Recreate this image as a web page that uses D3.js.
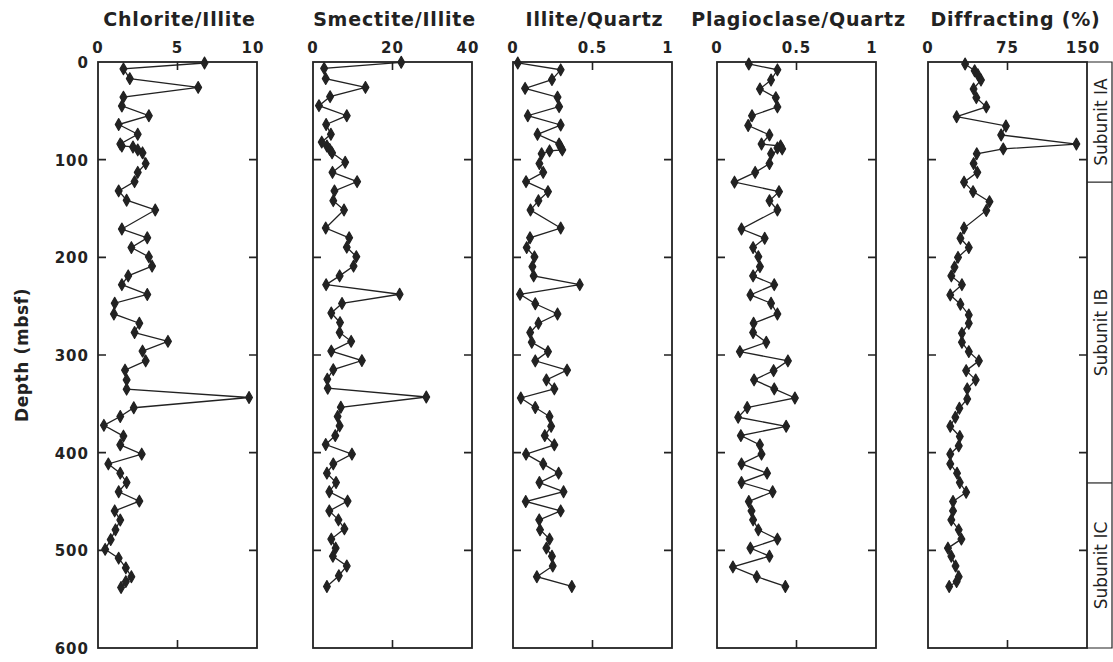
<!DOCTYPE html>
<html>
<head>
<meta charset="utf-8">
<script src="https://cdn.jsdelivr.net/npm/d3@7"></script>
<style>
  body { margin: 0; background: #fff; }
  svg { display: block; }
</style>
</head>
<body>
<script>
// depth (mbsf) and value for each panel
var chloriteDepth = [1, 7, 17, 26, 36, 45, 55, 64, 74, 84, 86, 87, 90, 93, 104, 113, 122.5, 132, 141.5, 151.5, 171, 180, 190, 199.5, 209, 219, 228, 238, 247, 258, 267.5, 277, 286, 296, 306, 315.5, 325.5, 335, 343.5, 354, 363, 372, 383, 392, 401.5, 411.5, 421, 430.5, 440, 449.6, 459.6, 469, 479, 489, 499, 508, 518, 527, 532, 538];
var chloriteValue = [6.7, 1.6, 2.0, 6.3, 1.6, 1.5, 3.2, 1.3, 2.5, 1.4, 1.5, 2.2, 2.5, 2.8, 3.0, 2.5, 2.3, 1.3, 1.8, 3.6, 1.5, 3.1, 2.1, 3.2, 3.4, 1.9, 1.5, 3.1, 1.05, 1.0, 2.6, 2.3, 4.4, 2.8, 3.0, 1.7, 1.8, 1.8, 9.5, 2.25, 1.4, 0.37, 1.6, 1.4, 2.75, 0.65, 1.4, 1.8, 1.3, 2.6, 1.05, 1.4, 1.1, 0.8, 0.45, 1.3, 1.75, 2.1, 1.75, 1.45];

var smectiteDepth = [0.3, 6.5, 17, 26, 35.5, 44.7, 55, 64, 74, 82, 86, 89.5, 93, 102.7, 113, 122.5, 132, 142, 151.5, 170, 180, 189.6, 199.3, 209, 219, 228, 237.8, 247.2, 257, 266.8, 277, 286, 296, 305.7, 315, 324.8, 334, 343, 353.5, 363, 372.6, 382.5, 391.7, 401.5, 411.5, 421, 430.6, 440, 449.6, 459.6, 468.8, 478, 488.5, 497.7, 506, 516, 526, 537];
var smectiteValue = [22.2, 2.8, 3.2, 13.2, 4.3, 1.5, 8.5, 3.3, 4.5, 2.2, 3.5, 4.2, 4.8, 8.1, 4.9, 11.1, 5.4, 5.1, 7.8, 3.2, 9.1, 8.5, 10.9, 10.2, 6.7, 3.3, 21.8, 7.3, 4.6, 6.8, 6.7, 9.6, 4.6, 12.3, 5.1, 3.6, 3.7, 28.5, 7.0, 6.2, 6.7, 5.6, 3.2, 9.8, 5.1, 3.5, 5.8, 4.1, 8.7, 4.1, 6.4, 7.9, 4.6, 5.7, 5.0, 8.5, 6.5, 3.5];

var illiteDepth = [1, 8, 18, 27, 36, 45.7, 55, 64.5, 74, 84, 87, 90, 91, 94, 104, 113, 122.5, 132.7, 142, 151.5, 170, 180, 190, 199.5, 209.5, 219, 228, 237.8, 247.5, 258, 267.5, 277, 287, 296.5, 306, 315.5, 325.5, 334.7, 344, 353.8, 363, 373, 382.5, 392, 401.5, 411.5, 421, 430.6, 440, 450, 459.6, 468.8, 479, 488.5, 497.7, 506, 516, 527, 537];
var illiteValue = [0.03, 0.30, 0.245, 0.076, 0.28, 0.29, 0.093, 0.30, 0.154, 0.29, 0.30, 0.31, 0.23, 0.18, 0.166, 0.19, 0.082, 0.22, 0.16, 0.11, 0.30, 0.107, 0.086, 0.135, 0.122, 0.13, 0.42, 0.044, 0.14, 0.28, 0.16, 0.108, 0.118, 0.22, 0.14, 0.34, 0.21, 0.26, 0.049, 0.14, 0.23, 0.24, 0.20, 0.26, 0.082, 0.19, 0.287, 0.166, 0.318, 0.08, 0.30, 0.165, 0.17, 0.23, 0.21, 0.245, 0.25, 0.15, 0.37];

var plagDepth = [2, 8, 18.4, 27.6, 36.5, 46, 55, 65, 74.7, 84, 86, 88, 89, 94, 104, 113, 123, 132.7, 142, 151.5, 171, 180.5, 190, 199.3, 209.5, 219, 228, 238.5, 247, 258, 267.5, 277, 287, 296.5, 306, 316, 325.5, 334.7, 344, 353.8, 363.7, 373, 382.5, 392, 401.5, 411.5, 421, 430.6, 440, 450, 459.6, 468.8, 479, 488.5, 497.7, 506, 517, 527, 537];
var plagValue = [0.20, 0.38, 0.34, 0.27, 0.37, 0.38, 0.22, 0.196, 0.33, 0.28, 0.40, 0.38, 0.41, 0.34, 0.33, 0.24, 0.11, 0.39, 0.33, 0.38, 0.154, 0.30, 0.227, 0.26, 0.27, 0.227, 0.36, 0.21, 0.34, 0.38, 0.23, 0.227, 0.31, 0.144, 0.446, 0.356, 0.233, 0.36, 0.49, 0.19, 0.133, 0.435, 0.15, 0.27, 0.28, 0.154, 0.315, 0.154, 0.35, 0.20, 0.217, 0.227, 0.26, 0.38, 0.21, 0.33, 0.10, 0.25, 0.43];

var diffDepth = [2, 9, 13, 18.4, 27.6, 36.5, 46, 56, 65.5, 74.7, 84, 89, 94, 104, 113, 123, 132.7, 143, 152, 170, 180.5, 190, 200, 210, 219, 228, 238.5, 248, 259, 267.5, 277.8, 287, 296.5, 306, 316, 325.5, 334.7, 345, 354.5, 363.7, 373, 383.5, 393, 401.5, 411.5, 421, 430.6, 440.5, 450, 459.6, 468.8, 479, 488.5, 497.7, 506, 516, 527, 532, 537];
var diffValue = [35, 44, 47, 50, 43, 45.6, 55, 27, 73.5, 69, 140, 71, 46, 43, 46.5, 34, 42.5, 58, 55, 34, 30.6, 38.5, 28.3, 25, 22, 32, 21, 30.6, 38.5, 38.5, 32, 32, 38.5, 48, 36, 45, 37, 37, 29.6, 25.8, 21, 30, 29, 21, 21, 27.4, 30, 36, 23.6, 23.6, 22, 29, 31.5, 18.8, 22, 26, 29, 27, 20];

var titles = ["Chlorite/Illite", "Smectite/Illite", "Illite/Quartz", "Plagioclase/Quartz", "Diffracting  (%)"];
var xMax = [10, 40, 1, 1, 150];
var xTickLabels = [["0", "5", "10"], ["0", "20", "40"], ["0", "0.5", "1"], ["0", "0.5", "1"], ["0", "75", "150"]];
var depthTicks = [0, 100, 200, 300, 400, 500, 600];
var subunits = ["Subunit IA", "Subunit IB", "Subunit IC"];
var subunitTops = [0, 123, 431, 600];

var W = 1113, H = 662;
var plotTop = 62, plotBottom = 648;
var panelLeft = [98, 313, 513, 717, 928];
var panelW = 159;
var ink = "#222";

var depths = [chloriteDepth, smectiteDepth, illiteDepth, plagDepth, diffDepth];
var values = [chloriteValue, smectiteValue, illiteValue, plagValue, diffValue];

var svg = d3.select("body").append("svg")
	.attr("width", W)
	.attr("height", H)
	.style("font-family", "'DejaVu Sans', sans-serif");

var y = d3.scaleLinear().domain([0, 600]).range([plotTop, plotBottom]);

for (var p = 0; p < 5; p++) {
	var x0 = panelLeft[p];
	var x = d3.scaleLinear().domain([0, xMax[p]]).range([x0, x0 + panelW]);
	var g = svg.append("g");

	// frame
	g.append("rect")
		.attr("x", x0).attr("y", plotTop)
		.attr("width", panelW).attr("height", plotBottom - plotTop)
		.attr("fill", "none").attr("stroke", ink).attr("stroke-width", 1.8);

	// inward ticks left/right
	g.selectAll(".ty").data(depthTicks.slice(1, 6)).enter().append("path")
		.attr("d", function(d) {
			return "M" + x0 + "," + y(d) + "h8M" + (x0 + panelW) + "," + y(d) + "h-8";
		})
		.attr("stroke", ink).attr("stroke-width", 1.6);

	// middle tick top/bottom
	var mid = x(xMax[p] / 2);
	g.append("path")
		.attr("d", "M" + mid + "," + plotTop + "v8M" + mid + "," + plotBottom + "v-8")
		.attr("stroke", ink).attr("stroke-width", 1.6);

	// tick labels on top
	var tv = [0, xMax[p] / 2, xMax[p]];
	g.selectAll(".tx").data(tv).enter().append("text")
		.attr("x", function(d, i) { return x(d) - (i == 2 ? 4 : 0); })
		.attr("y", 53)
		.attr("text-anchor", "middle")
		.attr("font-size", 15)
		.attr("font-weight", "bold")
		.attr("letter-spacing", 1)
		.attr("fill", ink)
		.text(function(d, i) { return xTickLabels[p][i]; });

	g.append("text")
		.attr("x", x0 + panelW / 2 + (p == 4 ? 8 : 2))
		.attr("y", 26)
		.attr("text-anchor", "middle")
		.attr("font-size", 19)
		.attr("font-weight", "bold")
		.attr("letter-spacing", 0.8)
		.attr("fill", ink)
		.text(titles[p]);

	var pts = depths[p].map(function(d, i) { return [values[p][i], d]; });
	var line = d3.line()
		.x(function(d) { return x(d[0]); })
		.y(function(d) { return y(d[1]); });

	g.append("path")
		.datum(pts)
		.attr("d", line)
		.attr("fill", "none")
		.attr("stroke", ink)
		.attr("stroke-width", 1.3);

	g.selectAll(".pt").data(pts).enter().append("path")
		.attr("d", d3.symbol().type(d3.symbolDiamond).size(40))
		.attr("transform", function(d) { return "translate(" + x(d[0]) + "," + y(d[1]) + ")"; })
		.attr("fill", ink)
		.attr("stroke", ink)
		.attr("stroke-width", 1.2)
		.attr("stroke-linejoin", "round");
}

// depth axis labels
svg.selectAll(".dl").data(depthTicks).enter().append("text")
	.attr("x", 89)
	.attr("y", function(d) { return y(d) + 6; })
	.attr("text-anchor", "end")
	.attr("font-size", 15)
	.attr("font-weight", "bold")
	.attr("letter-spacing", 1)
	.attr("fill", ink)
	.text(function(d) { return d; });

svg.append("text")
	.attr("transform", "translate(28," + y(300) + ") rotate(-90)")
	.attr("text-anchor", "middle")
	.attr("font-size", 17)
	.attr("font-weight", "bold")
	.attr("letter-spacing", 0.6)
	.attr("fill", ink)
	.text("Depth  (mbsf)");

// subunit column
var sx0 = panelLeft[4] + panelW, sx1 = 1112;
svg.append("path")
	.attr("d", "M" + sx0 + "," + plotTop + "H" + sx1 + "V" + plotBottom + "H" + sx0)
	.attr("fill", "none").attr("stroke", ink).attr("stroke-width", 1.2);
svg.selectAll(".sb").data(subunitTops.slice(1, 3)).enter().append("line")
	.attr("x1", sx0).attr("x2", sx1)
	.attr("y1", function(d) { return y(d); }).attr("y2", function(d) { return y(d); })
	.attr("stroke", ink).attr("stroke-width", 1.2);
svg.selectAll(".st").data(subunits).enter().append("text")
	.attr("transform", function(d, i) {
		var cy = (y(subunitTops[i]) + y(subunitTops[i + 1])) / 2;
		return "translate(" + ((sx0 + sx1) / 2 + 7) + "," + cy + ") rotate(-90)";
	})
	.attr("text-anchor", "middle")
	.attr("font-size", 17)
	.attr("fill", ink)
	.text(function(d) { return d; });
</script>
</body>
</html>
